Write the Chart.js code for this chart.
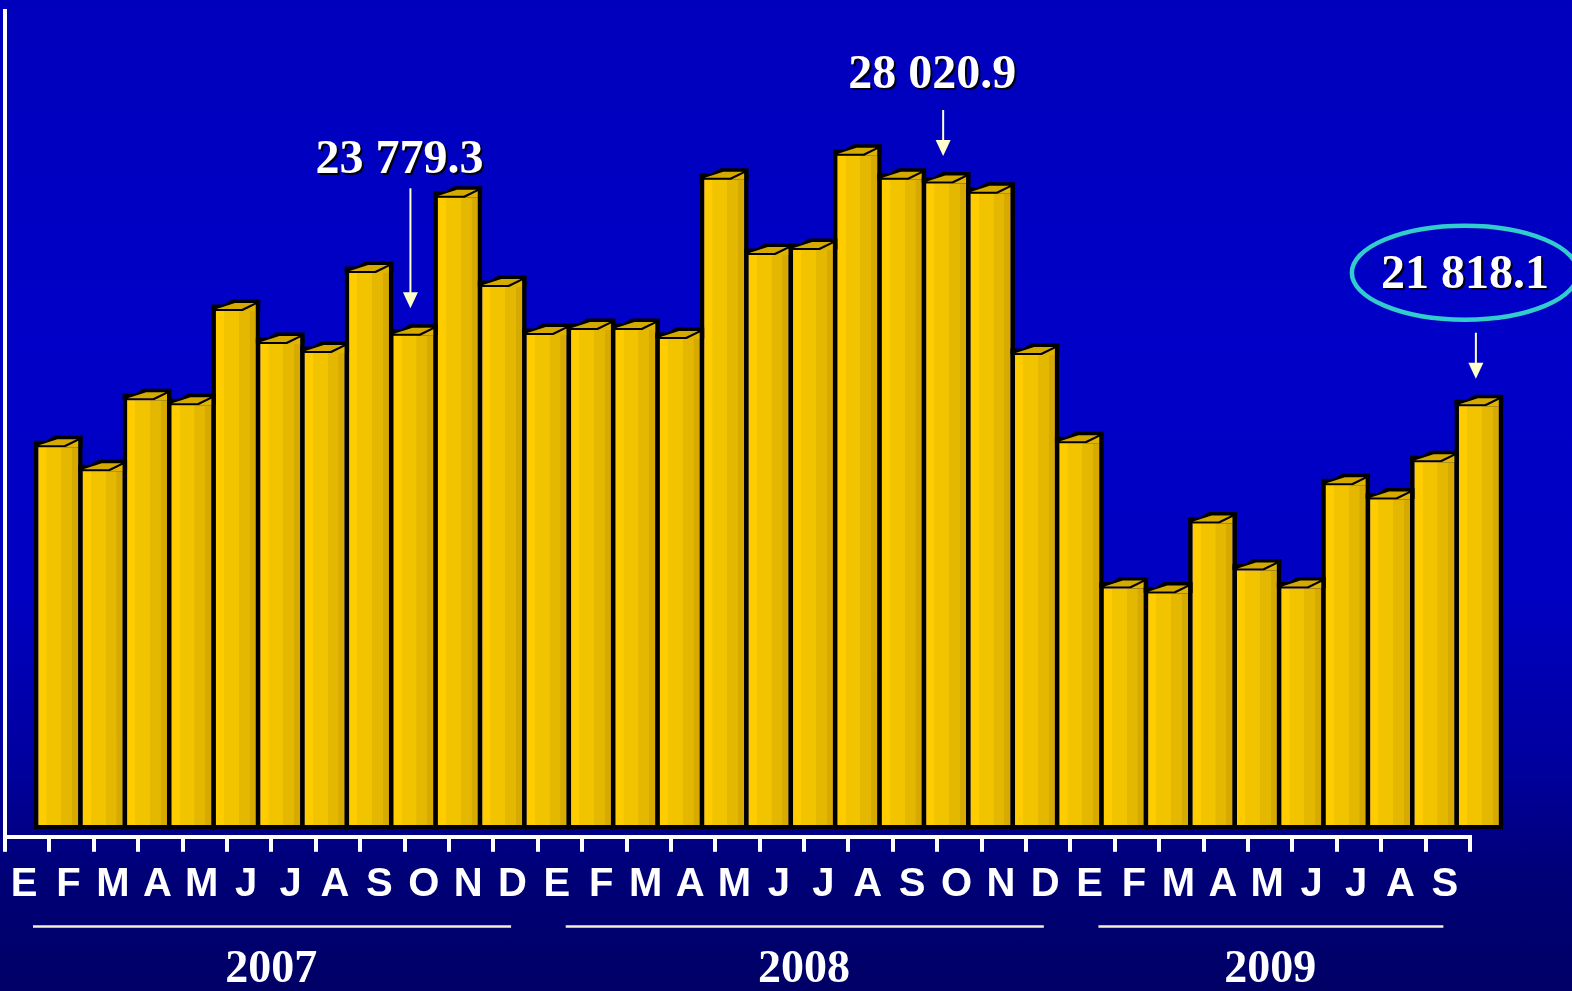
<!DOCTYPE html>
<html>
<head>
<meta charset="utf-8">
<title>Serie mensual 2007-2009</title>
<script src="https://cdn.jsdelivr.net/npm/chart.js"></script>
<style>
    html, body {
        margin: 0;
        padding: 0;
        width: 1572px;
        height: 991px;
        overflow: hidden;
        background: linear-gradient(to bottom, #0000bc 0%, #0000c8 35%, #0000c2 60%, #00009c 78%, #000078 88%, #000066 100%);
    }
    #chart { display: block; }
</style>
<script>
    // month initials, Jan 2007 .. Sep 2009
    const months = [
        'E', 'F', 'M', 'A', 'M', 'J', 'J', 'A', 'S', 'O', 'N', 'D',
        'E', 'F', 'M', 'A', 'M', 'J', 'J', 'A', 'S', 'O', 'N', 'D',
        'E', 'F', 'M', 'A', 'M', 'J', 'J', 'A', 'S'
    ];
    const values = [
        20674, 20004, 21985, 21846, 24468, 23548, 23297, 25529, 23779.3, 27621, 25138, 23799,
        23938, 23938, 23687, 28123, 26031, 26170, 28793, 28123, 28020.9, 27733, 23241, 20786,
        16740, 16601, 18554, 17242, 16740, 19614, 19223, 20255, 21818.1
    ];
    const years = ['2007', '2008', '2009'];
    const monthsPerYear = [12, 12, 9];
    const calloutIndex = [8, 20, 32];

    function fmt(v) {
        const parts = v.toFixed(1).split('.');
        return parts[0].replace(/\B(?=(\d{3})+(?!\d))/g, ' ') + '.' + parts[1];
    }

    // first month index of each year
    const yearStart = [];
    monthsPerYear.reduce((acc, n) => { yearStart.push(acc); return acc + n; }, 0);

    // shaded bands across the face of each column
    function columnFill(c) {
        const xb = c.chart.scales.xb;
        if (!xb || c.type !== 'data') return '#f2c400';
        const cx = xb.getPixelForValue(c.dataIndex);
        if (!isFinite(cx)) return '#f2c400';
        const g = c.chart.ctx.createLinearGradient(cx - 20, 0, cx + 20, 0);
        g.addColorStop(0, '#ffcc00');
        g.addColorStop(0.2, '#ffcc00');
        g.addColorStop(0.21, '#f2c400');
        g.addColorStop(0.57, '#f2c400');
        g.addColorStop(0.58, '#e4b700');
        g.addColorStop(0.84, '#e4b700');
        g.addColorStop(0.85, '#d6aa00');
        g.addColorStop(1, '#d6aa00');
        return g;
    }

    // slanted lid on top of every column
    const columnTops = {
        id: 'columnTops',
        afterDatasetsDraw(chart) {
            const ctx = chart.ctx;
            chart.getDatasetMeta(0).data.forEach(bar => {
                const w = bar.width, L = bar.x - w / 2, R = bar.x + w / 2, t = bar.y;
                ctx.save();
                ctx.fillStyle = '#000';
                ctx.beginPath();
                ctx.moveTo(L, t + 4);
                ctx.lineTo(L, t - 2);
                ctx.lineTo(L + w * 0.25, t - 2);
                ctx.lineTo(L + w * 0.42, t - 7);
                ctx.lineTo(R, t - 7);
                ctx.lineTo(R, t + 4);
                ctx.closePath();
                ctx.fill();
                ctx.fillStyle = '#d4a900';
                ctx.beginPath();
                ctx.moveTo(L + 5, t + 2.5);
                ctx.lineTo(L + w * 0.62, t + 2.5);
                ctx.lineTo(R - 6, t - 3.5);
                ctx.lineTo(L + w * 0.42 + 3, t - 3.5);
                ctx.closePath();
                ctx.fill();
                ctx.fillStyle = '#e0b400';
                ctx.beginPath();
                ctx.moveTo(L + w * 0.64, t + 4.5);
                ctx.lineTo(R - 4.5, t - 2);
                ctx.lineTo(R - 4.5, t + 4.5);
                ctx.closePath();
                ctx.fill();
                ctx.restore();
            });
        }
    };

    // drop shadow for the year row, which is drawn after the columns (z: 1)
    const yearShadow = {
        id: 'yearShadow',
        afterDatasetsDraw(chart) {
            const ctx = chart.ctx;
            ctx.shadowColor = 'rgba(0,0,0,0.85)';
            ctx.shadowOffsetX = 2;
            ctx.shadowOffsetY = 2;
            ctx.shadowBlur = 0;
        }
    };

    // arrows with value labels, plus the underlines of the year labels
    const callouts = {
        id: 'callouts',
        afterDraw(chart, args, opts) {
            const ctx = chart.ctx;
            ctx.shadowColor = 'transparent';
            ctx.shadowOffsetX = 0;
            ctx.shadowOffsetY = 0;
            const bars = chart.getDatasetMeta(0).data;
            opts.items.forEach(item => {
                const bar = bars[item.index];
                const ax = bar.x - 3;
                const tip = bar.y - 23;
                const tail = tip - item.stem;
                ctx.save();
                ctx.strokeStyle = '#ffffcc';
                ctx.fillStyle = '#ffffcc';
                ctx.lineWidth = 2;
                ctx.beginPath();
                ctx.moveTo(ax, tail);
                ctx.lineTo(ax, tip - 12);
                ctx.stroke();
                ctx.beginPath();
                ctx.moveTo(ax - 7.5, tip - 16);
                ctx.lineTo(ax + 7.5, tip - 16);
                ctx.lineTo(ax, tip);
                ctx.closePath();
                ctx.fill();

                const base = tail - item.gap;
                ctx.font = "bold 48px 'Liberation Serif', 'Times New Roman', serif";
                ctx.textAlign = 'center';
                ctx.textBaseline = 'alphabetic';
                ctx.shadowColor = 'rgba(0,0,0,0.9)';
                ctx.shadowOffsetX = 2;
                ctx.shadowOffsetY = 2;
                ctx.fillStyle = '#ffffff';
                ctx.fillText(fmt(values[item.index]), ax - 11, base);
                ctx.shadowColor = 'transparent';
                if (item.ring) {
                    ctx.strokeStyle = '#33cccc';
                    ctx.lineWidth = 4.5;
                    ctx.beginPath();
                    ctx.ellipse(ax - 11, base - 15, 113, 47, 0, 0, Math.PI * 2);
                    ctx.stroke();
                }
                ctx.restore();
            });

            const x2 = chart.scales.x2;
            ctx.save();
            ctx.strokeStyle = '#f4f0d0';
            ctx.lineWidth = 2.5;
            yearStart.forEach((s, i) => {
                const a = x2.getPixelForValue(s - 0.5 + 0.63);
                const b = x2.getPixelForValue(s + monthsPerYear[i] - 0.5 - 0.6);
                ctx.beginPath();
                ctx.moveTo(a, x2.top + 8);
                ctx.lineTo(b, x2.top + 8);
                ctx.stroke();
            });
            ctx.restore();
        }
    };

    document.addEventListener('DOMContentLoaded', function() {
        const ctx = document.getElementById('chart').getContext('2d');
        new Chart(ctx, {
            type: 'bar',
            data: {
                datasets: [{
                    data: values.map((v, i) => ({ x: i, y: v })),
                    xAxisID: 'xb',
                    yAxisID: 'y',
                    base: 9900,
                    backgroundColor: columnFill,
                    borderColor: '#000000',
                    borderWidth: 4.5,
                    borderSkipped: false,
                    barPercentage: 1.1,
                    categoryPercentage: 1,
                    clip: false
                }]
            },
            options: {
                responsive: false,
                animation: false,
                devicePixelRatio: 1,
                // the year row hangs a little past the bottom edge
                layout: { padding: { left: 5, top: 11, right: 102, bottom: -31 } },
                plugins: {
                    legend: { display: false },
                    tooltip: { enabled: false },
                    callouts: {
                        items: [
                            { index: calloutIndex[0], stem: 120, gap: 15, ring: false },
                            { index: calloutIndex[1], stem: 46, gap: 22, ring: false },
                            { index: calloutIndex[2], stem: 46, gap: 45, ring: true }
                        ]
                    }
                },
                scales: {
                    xb: {
                        type: 'linear',
                        display: false,
                        offset: false,
                        grid: { offset: false },
                        min: -1.2,
                        max: 31.8
                    },
                    x: {
                        type: 'category',
                        labels: months,
                        position: 'bottom',
                        weight: 0,
                        offset: true,
                        border: { display: true, color: '#ffffff', width: 4 },
                        grid: {
                            display: true,
                            offset: true,
                            drawOnChartArea: false,
                            drawTicks: true,
                            tickLength: 15,
                            color: '#ffffff',
                            lineWidth: 4
                        },
                        ticks: {
                            color: '#ffffff',
                            autoSkip: false,
                            maxRotation: 0,
                            padding: 13.4,
                            labelOffset: -3,
                            font: { family: "'Liberation Sans', Arial, sans-serif", size: 40, weight: 'bold', lineHeight: 1 }
                        }
                    },
                    x2: {
                        type: 'linear',
                        position: 'bottom',
                        weight: 1,
                        z: 1,
                        offset: false,
                        min: -0.5,
                        max: 32.5,
                        border: { display: false },
                        grid: { display: false, drawTicks: false, offset: false },
                        afterBuildTicks: scale => {
                            scale.ticks = yearStart.map((s, i) => ({ value: s + (monthsPerYear[i] - 1) / 2 }));
                        },
                        ticks: {
                            color: '#ffffff',
                            padding: 31,
                            maxRotation: 0,
                            autoSkip: false,
                            callback: (value, index) => years[index],
                            font: { family: "'Liberation Serif', 'Times New Roman', serif", size: 46, weight: 'bold', lineHeight: 0.9 }
                        }
                    },
                    y: {
                        min: 9700,
                        max: 32700,
                        border: { display: true, color: '#ffffff', width: 4 },
                        grid: { display: false, drawTicks: false },
                        ticks: { display: false }
                    }
                }
            },
            plugins: [columnTops, yearShadow, callouts]
        });
    });
</script>
</head>
<body>
<canvas id="chart" width="1572" height="991"></canvas>
</body>
</html>
